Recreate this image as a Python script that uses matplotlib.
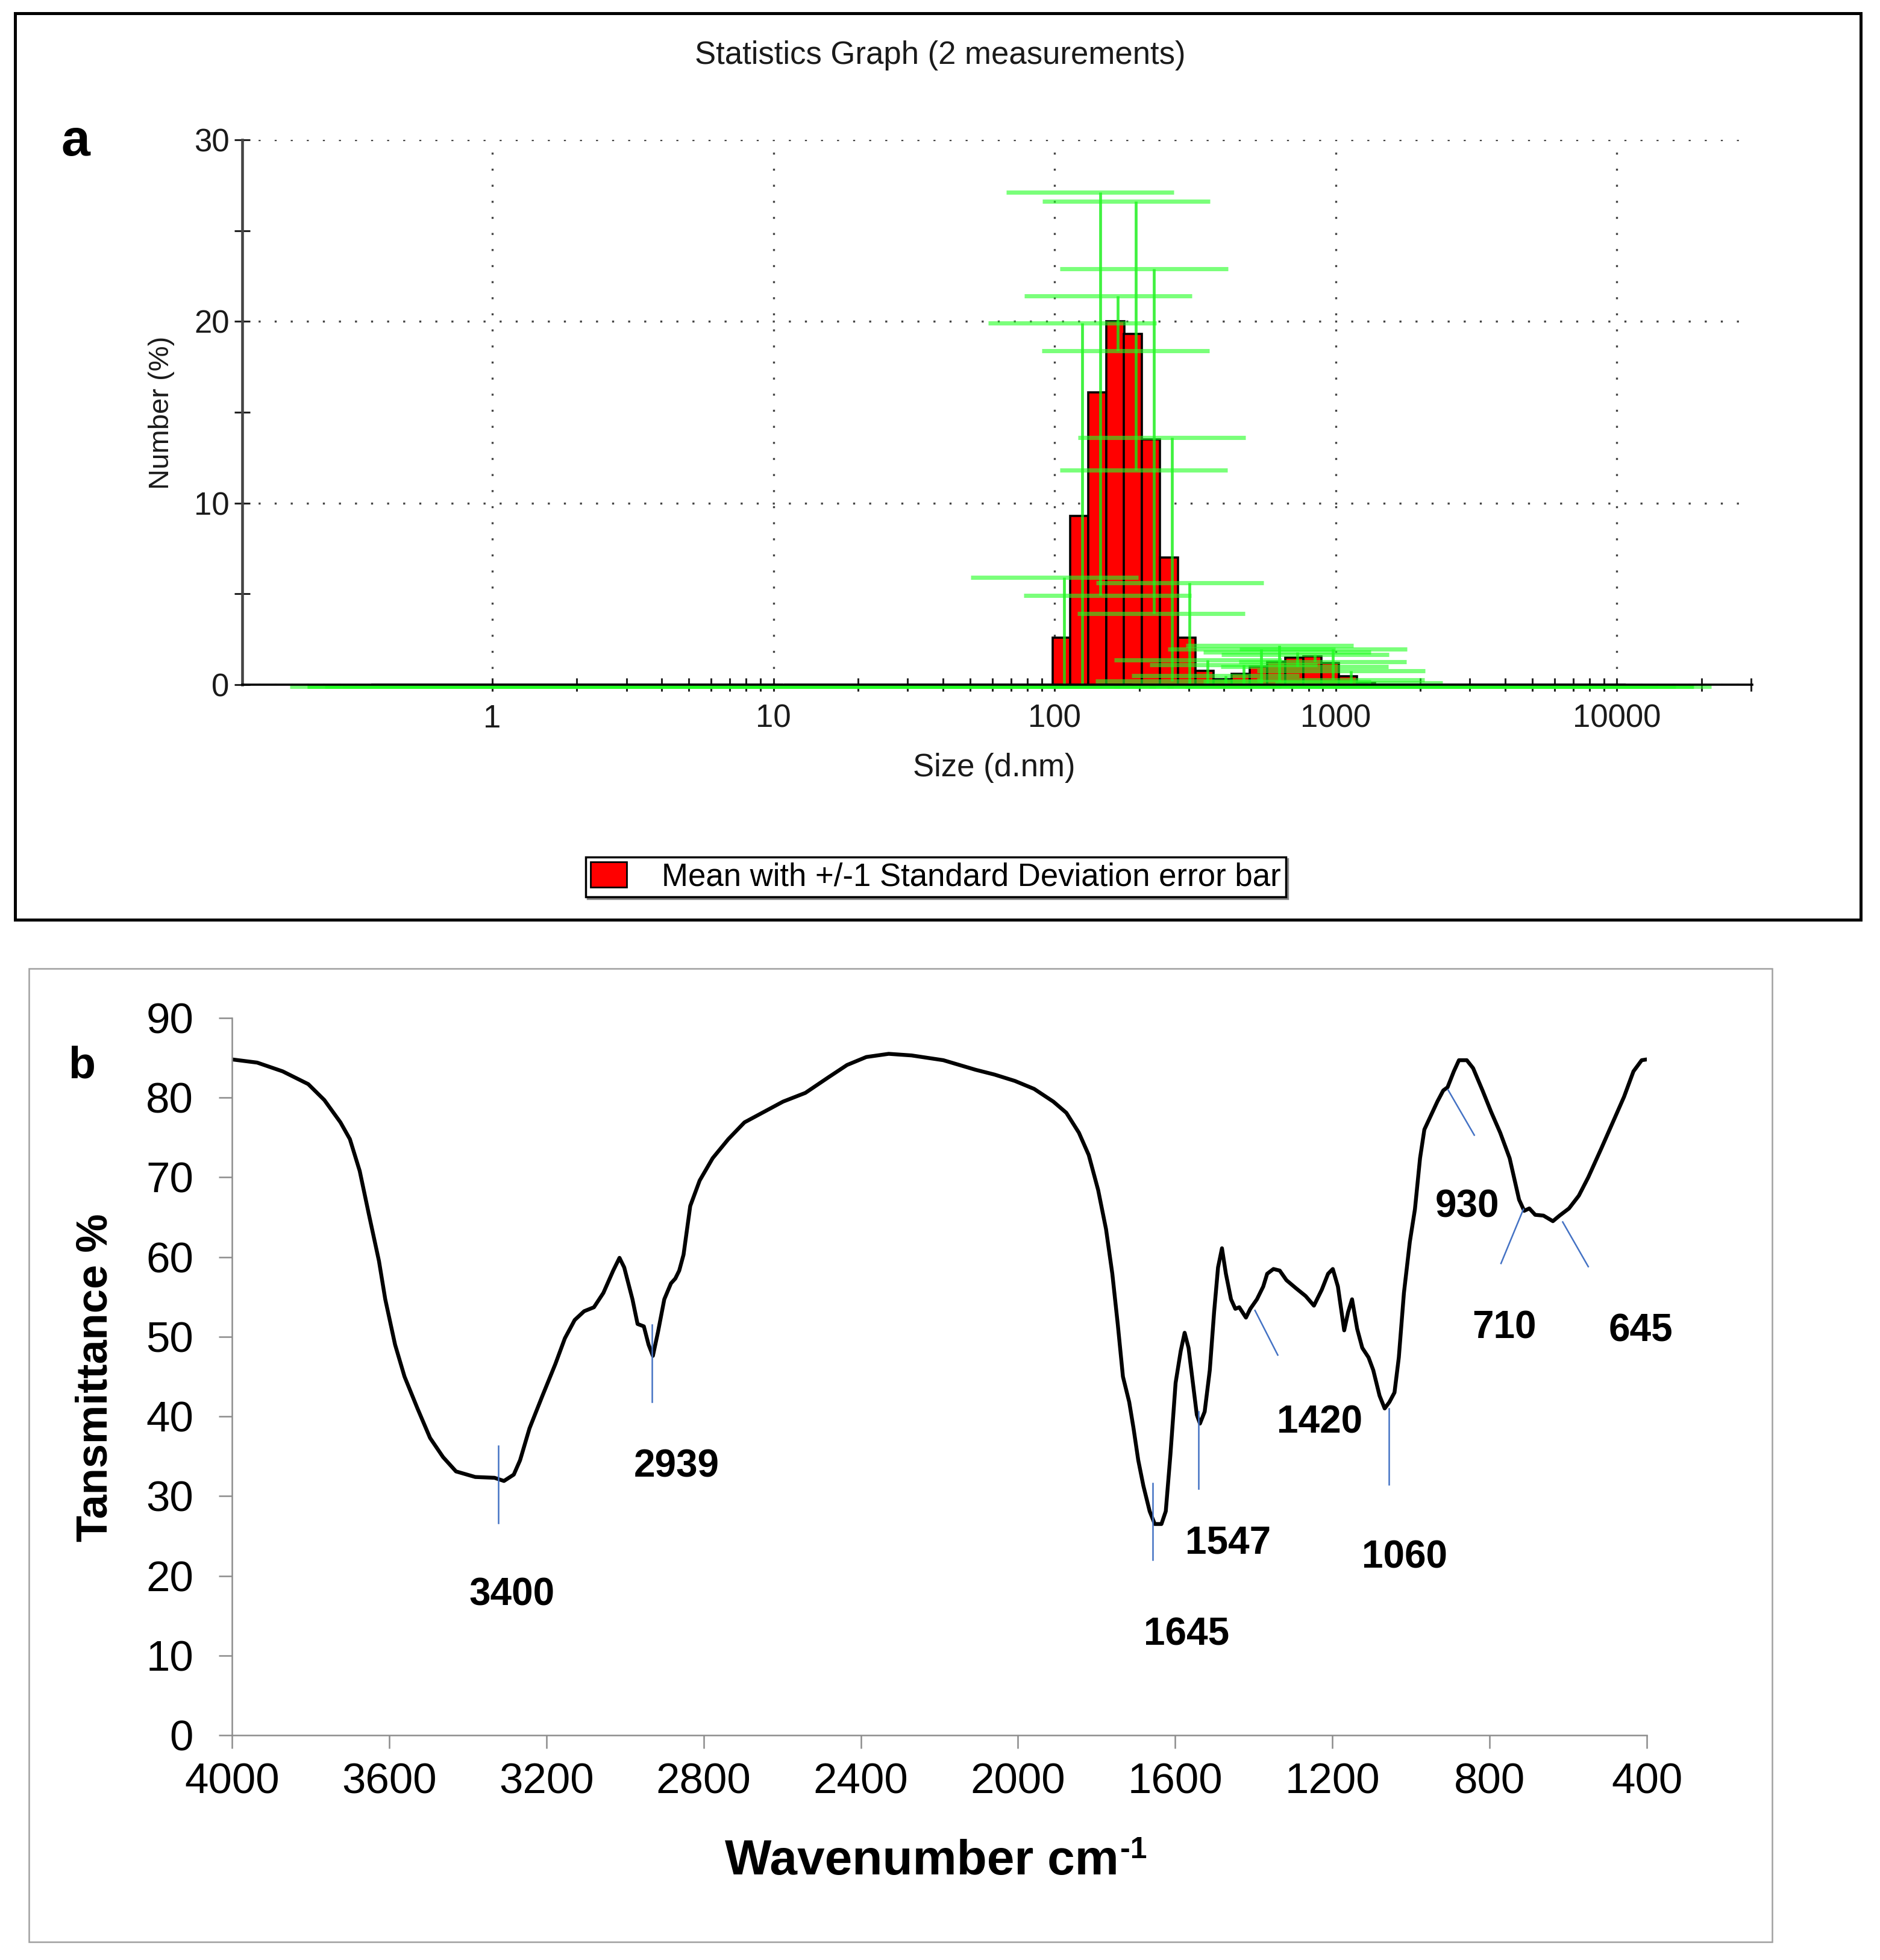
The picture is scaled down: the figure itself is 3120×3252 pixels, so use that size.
import matplotlib.pyplot as plt
import matplotlib.transforms as mtransforms
from matplotlib.patches import Patch, Rectangle
import numpy as np

plt.rcParams['font.family'] = ['Liberation Sans', 'DejaVu Sans']

# ---- panel a : DLS size distribution (Malvern size classes) ----
size_nm = [0.4000, 0.4632, 0.5365, 0.6213, 0.7195, 0.8332, 0.9649, 1.117, 1.294, 1.499,
           1.736, 2.010, 2.328, 2.696, 3.122, 3.615, 4.187, 4.849, 5.615, 6.503,
           7.531, 8.721, 10.10, 11.70, 13.54, 15.69, 18.17, 21.04, 24.36, 28.21,
           32.67, 37.84, 43.82, 50.75, 58.77, 68.06, 78.82, 91.28, 105.7, 122.4,
           141.8, 164.2, 190.1, 220.2, 255.0, 295.3, 342.0, 396.1, 458.7, 531.2,
           615.1, 712.4, 825.0, 955.4, 1106, 1281, 1484, 1718, 1990, 2305,
           2669, 3091, 3580, 4145, 4801, 5560, 6439, 7456, 8635, 10000]
number_mean = [0, 0, 0, 0, 0, 0, 0, 0, 0, 0,
               0, 0, 0, 0, 0, 0, 0, 0, 0, 0,
               0, 0, 0, 0, 0, 0, 0, 0, 0, 0,
               0, 0, 0, 0, 0, 0, 0, 0, 2.6, 9.3,
               16.1, 20.0, 19.3, 13.5, 7.0, 2.6, 0.75, 0.3, 0.6, 1.0,
               1.25, 1.5, 1.55, 1.2, 0.45, 0.1, 0, 0, 0, 0,
               0, 0, 0, 0, 0, 0, 0, 0, 0, 0]
number_sd = [0, 0, 0, 0, 0, 0, 0, 0, 0, 0,
             0, 0, 0, 0, 0, 0, 0, 0, 0, 0,
             0, 0, 0, 0, 0, 0, 0, 0, 0, 0,
             0, 0, 0, 0, 0, 0, 0, 0, 3.4, 10.7,
             11.1, 1.5, 7.4, 9.5, 6.7, 3.1, 0.7, 0.3, 0.6, 1.05,
             1.0, 0.4, 0.2, 0.85, 0.4, 0.1, 0, 0, 0, 0,
             0, 0, 0, 0, 0, 0, 0, 0, 0, 0]

# ---- panel b : FTIR spectrum ----
wavenumber = [4000, 3936, 3871, 3806, 3765, 3724, 3700, 3675, 3651, 3626,
              3610, 3585, 3561, 3528, 3496, 3463, 3430, 3381, 3332, 3308,
              3283, 3267, 3243, 3210, 3177, 3153, 3128, 3104, 3079, 3055,
              3030, 3014, 3002, 2981, 2968, 2952, 2940, 2929, 2916, 2900,
              2883, 2872, 2862, 2851, 2834, 2810, 2777, 2737, 2696, 2647,
              2598, 2541, 2484, 2435, 2386, 2329, 2271, 2190, 2108, 2060,
              2008, 1959, 1910, 1877, 1845, 1820, 1796, 1776, 1760, 1746,
              1733, 1717, 1706, 1694, 1681, 1665, 1652, 1635, 1624, 1612,
              1599, 1586, 1576, 1566, 1553, 1545, 1537, 1525, 1512, 1501,
              1491, 1481, 1471, 1458, 1447, 1437, 1420, 1409, 1392, 1376,
              1366, 1350, 1334, 1317, 1293, 1268, 1247, 1227, 1211, 1199,
              1186, 1170, 1160, 1150, 1137, 1124, 1108, 1096, 1080, 1067,
              1055, 1042, 1031, 1018, 1003, 990, 977, 966, 950, 933,
              918, 907, 891, 878, 858, 842, 818, 796, 773, 749,
              736, 725, 712, 699, 684, 663, 639, 622, 598, 573,
              549, 516, 483, 458, 434, 413, 400]
transmittance = [84.8, 84.4, 83.3, 81.7, 79.7, 76.9, 74.8, 70.8, 65.2, 59.5,
                 54.7, 49.0, 45.0, 41.0, 37.3, 34.9, 33.1, 32.4, 32.3, 31.9,
                 32.7, 34.5, 38.5, 42.6, 46.6, 49.8, 52.1, 53.2, 53.7, 55.5,
                 58.3, 59.9, 58.7, 54.7, 51.6, 51.3, 49.0, 47.6, 50.6, 54.7,
                 56.7, 57.3, 58.3, 60.3, 66.4, 69.6, 72.4, 74.8, 76.9, 78.2,
                 79.5, 80.6, 82.5, 84.1, 85.1, 85.5, 85.3, 84.7, 83.5, 82.9,
                 82.1, 81.1, 79.5, 78.1, 75.6, 72.8, 68.4, 63.5, 57.9, 51.5,
                 45.0, 41.8, 38.5, 34.5, 31.3, 28.1, 26.5, 26.5, 28.1, 35.3,
                 44.2, 48.2, 50.5, 48.6, 43.4, 40.2, 39.1, 40.6, 45.8, 53.1,
                 58.7, 61.1, 57.9, 54.7, 53.5, 53.7, 52.4, 53.5, 54.7, 56.3,
                 57.9, 58.5, 58.3, 57.1, 56.1, 55.1, 53.9, 55.9, 57.9, 58.5,
                 56.3, 50.8, 53.1, 54.7, 51.0, 48.6, 47.4, 45.8, 42.6, 41.0,
                 41.8, 43.0, 47.4, 55.5, 61.9, 66.0, 72.4, 76.0, 77.7, 79.5,
                 80.9, 81.3, 83.3, 84.7, 84.7, 83.7, 80.9, 78.2, 75.6, 72.4,
                 69.6, 67.2, 65.8, 66.1, 65.3, 65.2, 64.5, 65.2, 66.1, 67.7,
                 70.0, 73.6, 77.3, 80.1, 83.3, 84.7, 84.8]
peak_labels = ['3400', '2939', '1645', '1547', '1420', '1060', '930', '710', '645']

W, H = 3120, 3252


def fx(px):
    return px / W


def fy(py):
    return 1 - py / H


fig = plt.figure(figsize=(W / 100, H / 100), dpi=100)

# frames round the two panels
fig.add_artist(Rectangle((fx(25), fy(1526)), fx(3088) - fx(25), fy(22) - fy(1526),
                         transform=fig.transFigure, fill=False, edgecolor='black', linewidth=3.6))
fig.add_artist(Rectangle((fx(48), fy(3222)), fx(2941) - fx(48), fy(1607) - fy(3222),
                         transform=fig.transFigure, fill=False, edgecolor='#a0a0a0', linewidth=1.8))

# ================= panel a =================
axa = fig.add_axes([fx(402), fy(1136), fx(2908) - fx(402), fy(232) - fy(1136)])
axa.set_xscale('log')
axa.set_xlim(0.129, 30300)
axa.set_ylim(0, 30)

s = np.array(size_nm)
m = np.array(number_mean)
sd = np.array(number_sd)
logs = np.log10(s)
step = np.diff(logs).mean()
left = 10 ** (logs - step / 2)
right = 10 ** (logs + step / 2)
axa.bar(left, m, width=right - left, align='edge', color='#ff0000',
        edgecolor='black', linewidth=2.6, zorder=2)

up = m + sd
lo = np.clip(m - sd, 0, None)
gtrans = mtransforms.offset_copy(axa.transData, fig=fig, x=0, y=-3, units='dots')
axa.vlines(s * 10 ** 0.01, lo, up, colors='#11ee11', linewidth=3.4, alpha=0.8, zorder=3,
           transform=gtrans)
axa.hlines(up, s * 10 ** -0.323, s * 10 ** 0.273, colors='#22ff22', linewidth=5,
           alpha=0.6, zorder=3, transform=gtrans, clip_on=False)
axa.hlines(lo, s * 10 ** -0.261, s * 10 ** 0.335, colors='#22ff22', linewidth=5,
           alpha=0.6, zorder=3, transform=gtrans, clip_on=False)

axa.set_xticks([1, 10, 100, 1000, 10000])
axa.set_xticklabels(['1', '10', '100', '1000', '10000'])
minor_x = [k * 10 ** e for e in range(0, 4) for k in range(2, 10)] + [20000, 30000]
axa.set_xticks(minor_x, minor=True)
axa.xaxis.set_minor_formatter(plt.NullFormatter())
axa.set_yticks([0, 10, 20, 30])
axa.set_yticks([5, 15, 25], minor=True)
axa.set_axisbelow(True)
axa.grid(True, which='major', color='#444444', linestyle=(0, (1, 7)), linewidth=2.4)

for side in ['top', 'right']:
    axa.spines[side].set_visible(False)
axa.spines['left'].set_color('#444444')
axa.spines['left'].set_linewidth(3.3)
axa.spines['bottom'].set_color('black')
axa.spines['bottom'].set_linewidth(2.6)
axa.spines['bottom'].set_zorder(4)

axa.tick_params(axis='y', which='both', direction='inout', length=19, width=2.2,
                color='#222222', labelsize=38, labelcolor='#1a1a1a', pad=6)
axa.tick_params(axis='x', which='both', direction='inout', length=16, width=2.2,
                color='#222222', labelsize=38, labelcolor='#1a1a1a', pad=15)

fig.text(fx(1560), fy(92), 'Statistics Graph (2 measurements)', ha='center', va='center',
         fontsize=38, color='#1a1a1a')
fig.text(fx(1650), fy(1274), 'Size (d.nm)', ha='center', va='center', fontsize=38,
         color='#1a1a1a')
fig.text(fx(268), fy(685), 'Number (%)', ha='center', va='center', rotation=90,
         fontsize=34, color='#1a1a1a')
fig.text(fx(125), fy(258), 'a', ha='center', va='baseline', fontsize=62, fontweight='bold')

handle = Patch(facecolor='#ff0000', edgecolor='black', linewidth=2)
leg = axa.legend([handle], ['Mean with +/-1 Standard Deviation error bar'], loc='center',
                 bbox_to_anchor=(fx(1553), fy(1455)), bbox_transform=fig.transFigure,
                 fontsize=38, frameon=True, fancybox=False,
                 shadow={'color': '#7f7f7f', 'alpha': 0.9},
                 edgecolor='black', framealpha=1, handlelength=1.15, handleheight=0.85,
                 handletextpad=1.1, borderpad=0.15, borderaxespad=0)
leg.get_frame().set_linewidth(2.5)

# ================= panel b =================
axb = fig.add_axes([fx(385), fy(2879), fx(2733) - fx(385), fy(1689) - fy(2879)])
axb.plot(wavenumber, transmittance, color='black', linewidth=4.6, solid_joinstyle='round',
         solid_capstyle='round')
axb.set_xlim(4000, 400)
axb.set_ylim(0, 90)
axb.set_xticks(np.arange(400, 4001, 400))
axb.set_yticks(np.arange(0, 91, 10))
for side in ['top', 'right']:
    axb.spines[side].set_visible(False)
for side in ['left', 'bottom']:
    axb.spines[side].set_color('#8c8c8c')
    axb.spines[side].set_linewidth(1.8)
axb.tick_params(axis='both', direction='out', length=16, width=1.8, color='#8c8c8c',
                labelsize=51)
axb.tick_params(axis='y', pad=30)
axb.tick_params(axis='x', pad=17)

# peak marker lines and labels
marker_lines = [((3323, 36.3), (3323, 26.6)), ((2932, 51.5), (2932, 41.8)),
                ((1658, 31.6), (1658, 22.0)), ((1541, 40.6), (1541, 30.9)),
                ((1397, 53.3), (1339, 47.7)), ((1056, 41.0), (1056, 31.5)),
                ((906, 81.0), (839, 75.3)), ((714, 66.0), (771, 59.2)),
                ((614, 64.4), (549, 58.8))]
label_pos = [(3288, 17.6), (2869, 33.7), (1572, 12.6), (1465, 24.1), (1233, 39.2),
             (1016, 22.3), (857, 66.3), (763, 51.1), (415, 50.7)]
for lab, (p1, p2), (lx, ly) in zip(peak_labels, marker_lines, label_pos):
    axb.plot([p1[0], p2[0]], [p1[1], p2[1]], color='#4472c4', linewidth=1.8)
    axb.text(lx, ly, lab, ha='center', va='center', fontsize=46, fontweight='bold')

fig.text(fx(159), fy(2286), 'Tansmittance %', ha='center', va='center', rotation=90,
         fontsize=52, fontweight='bold')
xl = fig.text(fx(1203), fy(3110), 'Wavenumber cm', ha='left', va='baseline',
              fontsize=59, fontweight='bold')
fig.canvas.draw()
xl_right = xl.get_window_extent().x1
fig.text((xl_right + 2) / W, fy(3083), '-1', ha='left', va='baseline',
         fontsize=36, fontweight='bold')
fig.text(fx(136), fy(1788), 'b', ha='center', va='baseline', fontsize=53, fontweight='bold')

fig.savefig('out.png', dpi=100)
